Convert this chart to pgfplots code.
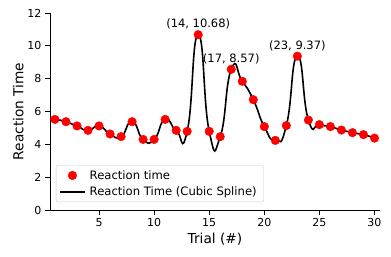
\documentclass[border=0pt]{standalone}
\usepackage{pgfplots}
\pgfplotsset{compat=1.18}
\usepackage{fontspec}
\setmainfont{DejaVu Sans}

\pgfplotstableread{
trial rt
1 5.52
2 5.38
3 5.12
4 4.85
5 5.12
6 4.63
7 4.47
8 5.38
9 4.30
10 4.30
11 5.52
12 4.85
13 4.79
14 10.68
15 4.79
16 4.47
17 8.57
18 7.84
19 6.72
20 5.08
21 4.24
22 5.14
23 9.37
24 5.48
25 5.20
26 5.08
27 4.87
28 4.71
29 4.59
30 4.38
}\rtdata

\begin{document}
\begin{tikzpicture}
  \useasboundingbox (-50pt,-47pt) rectangle (341pt,210pt);
  \begin{axis}[
      at={(0pt,0pt)}, anchor=south west,
      scale only axis,
      width=330pt, height=197pt,
      xmin=0.55, xmax=30.5,
      ymin=0, ymax=12,
      axis x line*=bottom, axis y line*=left,
      axis line style={line width=0.8pt},
      xtick={5,10,...,30},
      ytick={0,2,...,12},
      tick align=outside,
      major tick length=5pt,
      tick style={line width=0.8pt, black},
      ticklabel style={font=\fontsize{11}{13}\selectfont},
      /pgf/number format/assume math mode=true,
      xlabel={Trial (\#)},
      ylabel={Reaction Time},
      label style={font=\fontsize{13.7}{16}\selectfont},
      xlabel style={yshift=1pt},
      ylabel style={yshift=-3pt},
      legend style={font=\fontsize{11.6}{14}\selectfont, draw=black!20, rounded corners=2pt,
        at={(0.018,0.04)}, anchor=south west, row sep=2pt, inner sep=3pt,
        nodes={inner xsep=4pt}},
      legend cell align=left,
  ]
  \addplot[only marks, mark=*, mark size=4.3pt, red, mark options={draw=red, fill=red},
    legend image code/.code={\fill[red] (12.5pt,0pt) circle (4.3pt);}]
    table[x=trial, y=rt] {\rtdata};
  \addlegendentry{Reaction time}
  \addplot[black, line width=1.6pt, smooth, tension=1, mark=none,
    legend image code/.code={\draw[black, line width=1.6pt] (0pt,0pt) -- (25pt,0pt);}]
    table[x=trial, y=rt] {\rtdata};
  \addlegendentry{Reaction Time (Cubic Spline)}
  \node[anchor=base, font=\fontsize{11.5}{14}\selectfont, inner sep=0pt] at (axis cs:14,10.68) [yshift=7pt] {(14, 10.68)};
  \node[anchor=base, font=\fontsize{11.5}{14}\selectfont, inner sep=0pt] at (axis cs:17,8.57) [yshift=7pt] {(17, 8.57)};
  \node[anchor=base, font=\fontsize{11.5}{14}\selectfont, inner sep=0pt] at (axis cs:23,9.37) [yshift=7pt] {(23, 9.37)};
  \end{axis}
\end{tikzpicture}
\end{document}
